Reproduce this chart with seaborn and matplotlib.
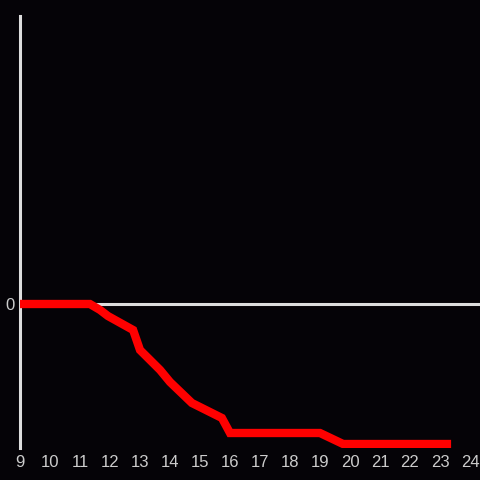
import matplotlib
matplotlib.use("Agg")
import matplotlib.pyplot as plt
import seaborn as sns
import pandas as pd

hours = [9, 11.33, 11.67, 11.93, 12.77, 13.0, 13.67, 14.0, 14.73, 15.33, 15.73, 16.0, 19.0, 19.77, 23.37]
values = [0, 0, -0.6, -1.2, -2.6, -4.6, -6.6, -7.8, -9.9, -10.8, -11.4, -12.9, -12.9, -14.0, -14.0]
xticks = list(range(9, 25))

sns.set_style("dark")
plt.rcParams["font.family"] = ["Liberation Sans", "DejaVu Sans"]
bg = "#050307"
fig = plt.figure(figsize=(4.8, 4.8), dpi=100, facecolor=bg)
ax = fig.add_axes([20/480, 32/480, 460/480, 432/480])
ax.set_facecolor(bg)

ax.axhline(0, color="#dddddd", lw=2.2, zorder=1)
df = pd.DataFrame({"hour": hours, "value": values})
sns.lineplot(data=df, x="hour", y="value", ax=ax, color="#ff0000", lw=6,
             solid_capstyle="butt", solid_joinstyle="miter", zorder=3)

ax.set_xlim(9, 9 + 460/30)
ax.set_ylim(-14.4, 28.8)
ax.set_xticks(xticks)
ax.set_xticklabels([str(t) for t in xticks])
ax.set_yticks([0])
ax.set_yticklabels(["0"])
ax.tick_params(colors="#cccccc", labelsize=12, length=0, pad=5)
ax.tick_params(axis="y", pad=4)
ax.set_xlabel("")
ax.set_ylabel("")
ax.grid(False)
for s in ["top", "right", "bottom"]:
    ax.spines[s].set_visible(False)
ax.spines["left"].set_color("#dddddd")
ax.spines["left"].set_linewidth(2.2)

fig.savefig("out.png", dpi=100, facecolor=bg)
